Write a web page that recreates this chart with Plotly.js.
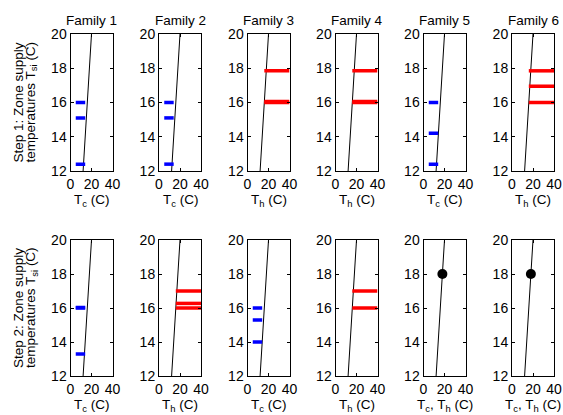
<!DOCTYPE html>
<html>
<head>
<meta charset="utf-8">
<script src="https://cdn.plot.ly/plotly-3.0.1.min.js"></script>
<style>html,body{margin:0;padding:0;background:#fff;}#chart{width:563px;height:415px;}</style>
</head>
<body>
<div id="chart"></div>
<script>
// ---- data ----
const families = ["Family 1", "Family 2", "Family 3", "Family 4", "Family 5", "Family 6"];
const step1Kind = ["c", "c", "h", "h", "c", "h"];
const step1Levels = [[16, 15.1, 12.4], [16, 15.1, 12.4], [17.85, 16.06, 16], [17.85, 16.06, 16], [16, 14.2, 12.4], [17.85, 16.95, 16]];
const step2Kind = ["c", "h", "c", "h", "dot", "dot"];
const step2Levels = [[16.03, 16, 13.3], [17, 16.27, 16], [16, 15.3, 14], [17, 16], [], []];
const step2Dot = [18, 18];
const coldRange = [5, 14];
const hotRange = [16, 40];
const diagT = [12, 20];
const xTitles1 = ["T<sub>c</sub> (C)", "T<sub>c</sub> (C)", "T<sub>h</sub> (C)", "T<sub>h</sub> (C)", "T<sub>c</sub> (C)", "T<sub>h</sub> (C)"];
const xTitles2 = ["T<sub>c</sub> (C)", "T<sub>h</sub> (C)", "T<sub>c</sub> (C)", "T<sub>h</sub> (C)", "T<sub>c</sub>, T<sub>h</sub> (C)", "T<sub>c</sub>, T<sub>h</sub> (C)"];
const xTickVals = [0, 20, 40];
const yTickVals = [12, 14, 16, 18, 20];

// ---- layout helpers ----
const W = 563, H = 415;
const colLeft = [70.5, 159, 247.5, 335.5, 423.5, 512];
const colW = 42;
const rowTop = [34, 240], rowBot = [171, 376];
const FONT = "Liberation Sans, Arial, Helvetica, sans-serif";

const traces = [];
const layout = {
  width: W, height: H,
  margin: {l: 0, r: 0, t: 0, b: 0},
  paper_bgcolor: "#fff", plot_bgcolor: "#fff",
  showlegend: false,
  font: {family: FONT, size: 13, color: "#000"},
  annotations: []
};

function axisCommon() {
  return {
    showline: true, linecolor: "#000", linewidth: 1, mirror: "ticks",
    ticks: "inside", ticklen: 3, tickwidth: 1, tickcolor: "#000",
    showgrid: false, zeroline: false, fixedrange: true,
    tickfont: {family: FONT, size: 14, color: "#000"}
  };
}

let idx = 0;
for (let r = 0; r < 2; r++) {
  for (let c = 0; c < 6; c++) {
    idx++;
    const xa = "x" + (idx === 1 ? "" : idx), ya = "y" + (idx === 1 ? "" : idx);
    const xk = "xaxis" + (idx === 1 ? "" : idx), yk = "yaxis" + (idx === 1 ? "" : idx);
    layout[xk] = Object.assign(axisCommon(), {
      domain: [colLeft[c] / W, (colLeft[c] + colW) / W],
      range: [0, 40], tickvals: xTickVals, anchor: ya
    });
    layout[yk] = Object.assign(axisCommon(), {
      domain: [1 - rowBot[r] / H, 1 - rowTop[r] / H],
      range: [12, 20], tickvals: yTickVals, anchor: xa
    });
    // diagonal line
    traces.push({x: diagT, y: diagT, xaxis: xa, yaxis: ya, mode: "lines",
      line: {color: "#000", width: 1}, hoverinfo: "skip"});
    const kind = r === 0 ? step1Kind[c] : step2Kind[c];
    const levels = r === 0 ? step1Levels[c] : step2Levels[c];
    if (kind === "dot") {
      traces.push({x: [step2Dot[0]], y: [step2Dot[1]], xaxis: xa, yaxis: ya, mode: "markers",
        marker: {color: "#000", size: 10}, hoverinfo: "skip"});
    } else {
      const rng = kind === "c" ? coldRange : hotRange;
      const col = kind === "c" ? "#0000ff" : "#ff0000";
      levels.forEach(v => {
        traces.push({x: rng, y: [v, v], xaxis: xa, yaxis: ya, mode: "lines",
          line: {color: col, width: 3.5}, hoverinfo: "skip"});
      });
    }
    const cx = (colLeft[c] + colW / 2) / W;
    // x title
    layout.annotations.push({
      text: r === 0 ? xTitles1[c] : xTitles2[c], xref: "paper", yref: "paper",
      x: cx, y: 1 - (rowBot[r] + 19) / H, xanchor: "center", yanchor: "top",
      showarrow: false, font: {family: FONT, size: 13.5, color: "#000"}
    });
    if (r === 0) {
      layout.annotations.push({
        text: families[c], xref: "paper", yref: "paper",
        x: cx, y: 1 - 20 / H, xanchor: "center", yanchor: "middle",
        showarrow: false, font: {family: FONT, size: 13.5, color: "#000"}
      });
    }
  }
}

// y titles
const yTitleLine1 = ["Step 1: Zone supply", "Step 2: Zone supply"];
const yTitleLine2 = "temperatures T<sub>si</sub> (C)";
for (let r = 0; r < 2; r++) {
  const cy = 1 - ((rowTop[r] + rowBot[r]) / 2) / H;
  layout.annotations.push({
    text: yTitleLine1[r], xref: "paper", yref: "paper", x: 18 / W, y: cy,
    xanchor: "center", yanchor: "middle", textangle: -90, showarrow: false,
    font: {family: FONT, size: 13.5, color: "#000"}
  });
  layout.annotations.push({
    text: yTitleLine2, xref: "paper", yref: "paper", x: 31 / W, y: cy,
    xanchor: "center", yanchor: "middle", textangle: -90, showarrow: false,
    font: {family: FONT, size: 13.5, color: "#000"}
  });
}

Plotly.newPlot("chart", traces, layout, {staticPlot: true, displayModeBar: false});
</script>
</body>
</html>
